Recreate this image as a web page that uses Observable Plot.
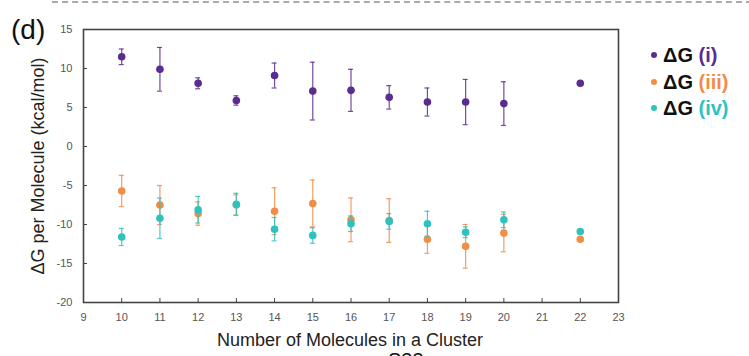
<!DOCTYPE html>
<html><head><meta charset="utf-8">
<script src="https://cdn.jsdelivr.net/npm/d3@7"></script>
<script src="https://cdn.jsdelivr.net/npm/@observablehq/plot@0.6"></script>
<style>
body{margin:0;background:#fff;font-family:"Liberation Sans",Arial,sans-serif;}
#wrap{position:relative;width:749px;height:356px;overflow:hidden;background:#fff;}
.abs{position:absolute;white-space:nowrap;line-height:1;}
.leg{position:absolute;left:651px;font-weight:bold;font-size:20px;line-height:20px;}
.leg .dot{display:inline-block;width:6px;height:6px;border-radius:50%;vertical-align:middle;margin-right:6px;position:relative;top:-2px;}
</style></head>
<body><div id="wrap"></div>
<script>
const clusterSizes = [10, 11, 12, 13, 14, 15, 16, 17, 18, 19, 20, 22];
const dgI      = [11.5, 9.9, 8.1, 5.9, 9.1, 7.1, 7.2, 6.3, 5.7, 5.7, 5.5, 8.1];
const dgIErr   = [1.0, 2.8, 0.7, 0.6, 1.6, 3.7, 2.7, 1.5, 1.8, 2.9, 2.8, null];
const dgIII    = [-5.7, -7.5, -8.6, -7.5, -8.3, -7.3, -9.4, -9.5, -11.9, -12.8, -11.1, -11.9];
const dgIIIErr = [2.0, 2.5, 1.5, 1.3, 3.0, 3.0, 2.8, 2.8, 1.8, 2.8, 2.4, null];
const dgIV     = [-11.6, -9.2, -8.1, -7.4, -10.6, -11.4, -9.9, -9.6, -9.9, -11.0, -9.4, -10.9];
const dgIVErr  = [1.1, 2.6, 1.7, 1.4, 1.5, 1.0, 1.0, 1.0, 1.6, 0.7, 1.0, null];
const seriesNames = ["(i)", "(iii)", "(iv)"];
const seriesColors = ["#5b2c8f", "#f08d47", "#2ec2be"];
const xTicks = d3.range(9, 24);
const yTicks = [-20, -15, -10, -5, 0, 5, 10, 15];

function rows(vals, errs, name) {
  return clusterSizes.map((x, i) => ({x, y: vals[i], e: errs[i], s: name}));
}
const sets = [rows(dgI, dgIErr, "(i)"), rows(dgIII, dgIIIErr, "(iii)"), rows(dgIV, dgIVErr, "(iv)")];
const cap = 0.065;

const marks = [];
sets.forEach((data, k) => {
  const c = seriesColors[k];
  const withErr = data.filter(d => d.e != null);
  marks.push(Plot.ruleX(withErr, {x: "x", y1: d => d.y - d.e, y2: d => d.y + d.e, stroke: c, strokeWidth: 1.2, strokeOpacity: 0.85}));
  marks.push(Plot.ruleY(withErr, {y: d => d.y - d.e, x1: d => d.x - cap, x2: d => d.x + cap, stroke: c, strokeWidth: 1.2, strokeOpacity: 0.85}));
  marks.push(Plot.ruleY(withErr, {y: d => d.y + d.e, x1: d => d.x - cap, x2: d => d.x + cap, stroke: c, strokeWidth: 1.2, strokeOpacity: 0.85}));
  marks.push(Plot.dot(data, {x: "x", y: "y", r: 3.8, fill: c, stroke: "none"}));
});

const chart = Plot.plot({
  width: 749, height: 356,
  marginLeft: 83, marginRight: 131, marginTop: 29, marginBottom: 54,
  style: {fontFamily: "'Liberation Sans', Arial, sans-serif", background: "transparent"},
  x: {domain: [9, 23]},
  y: {domain: [-20, 15]},
  marks: [
    Plot.axisX({ticks: xTicks, tickFormat: d3.format("d"), tickSize: -4, tickPadding: 15, fontSize: 11, color: "#555", stroke: "#444", label: null}),
    Plot.axisY({ticks: yTicks, tickFormat: d => d < 0 ? "-" + Math.abs(d) : String(d), tickSize: -4, tickPadding: 15, fontSize: 11, color: "#555", stroke: "#444", label: null}),
    ...marks,
    Plot.frame({stroke: "#444", strokeWidth: 1.6})
  ]
});
const wrap = document.getElementById("wrap");
chart.style.position = "absolute"; chart.style.left = "0"; chart.style.top = "0";
wrap.appendChild(chart);

function add(html, css, cls) {
  const d = document.createElement("div");
  d.className = cls || "abs";
  d.innerHTML = html;
  Object.assign(d.style, css);
  wrap.appendChild(d);
  return d;
}
// top dashed separator
add("", {left: "52px", top: "1px", width: "700px", height: "0", borderTop: "2px dashed #aaa"});
add("(d)", {left: "11px", top: "16px", fontSize: "28px", color: "#111"});
add("Number of Molecules in a Cluster", {left: "350px", top: "331px", fontSize: "18px", color: "#222", transform: "translateX(-50%)"});
add("ΔG per Molecule (kcal/mol)", {left: "38px", top: "166px", fontSize: "18px", color: "#222", transform: "translate(-50%,-50%) rotate(-90deg)"});
add("S33", {left: "388px", top: "350px", fontSize: "20px", color: "#111"});
const legTops = [45, 72, 98];
seriesNames.forEach((n, k) => {
  add(`<span class="dot" style="background:${seriesColors[k]}"></span><span style="color:#111">ΔG</span> <span style="color:${seriesColors[k]}">${n}</span>`, {top: legTops[k] + "px"}, "leg");
});
</script></body></html>
